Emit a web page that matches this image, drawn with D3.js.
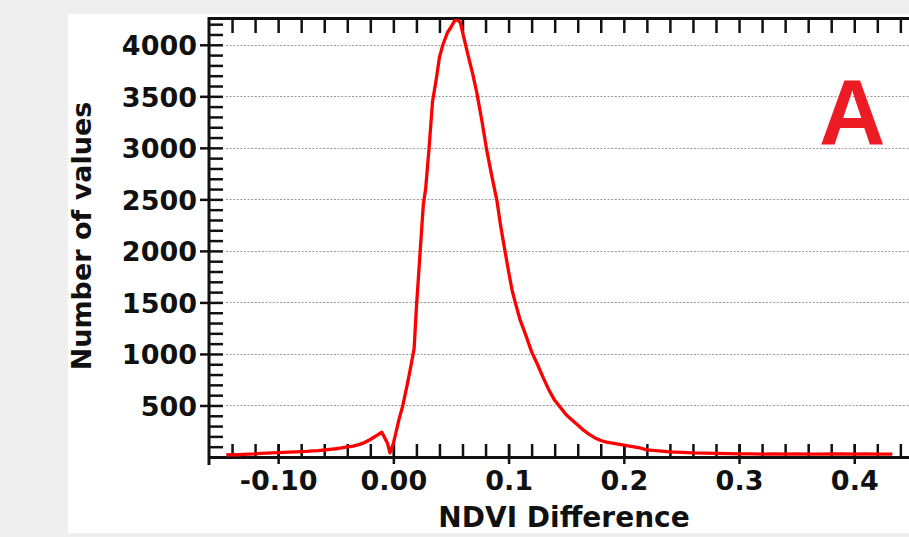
<!DOCTYPE html>
<html>
<head>
<meta charset="utf-8">
<script src="https://cdn.jsdelivr.net/npm/d3@7"></script>
<style>
  body { margin: 0; background: #efefef; }
  svg { display: block; }
</style>
</head>
<body>
<svg id="chart"></svg>
<script>
// NDVI difference histogram
const ndviDiff = [
  -0.145, -0.14, -0.135, -0.13, -0.125, -0.12, -0.115, -0.11, -0.105, -0.10,
  -0.095, -0.09, -0.085, -0.08, -0.075, -0.07, -0.065, -0.06, -0.055, -0.05,
  -0.045, -0.04, -0.035, -0.03, -0.025, -0.02, -0.015, -0.01, -0.005, -0.003,
  0.000, 0.005, 0.008, 0.012, 0.015, 0.018, 0.020, 0.023, 0.026, 0.028,
  0.031, 0.034, 0.037, 0.040, 0.043, 0.047, 0.050, 0.054, 0.058, 0.062,
  0.065, 0.069, 0.0725, 0.077, 0.081, 0.085, 0.090, 0.093, 0.097, 0.100,
  0.103, 0.106, 0.110, 0.115, 0.120, 0.125, 0.130, 0.135, 0.140, 0.145,
  0.150, 0.155, 0.160, 0.165, 0.170, 0.175, 0.180, 0.185, 0.190, 0.195,
  0.200, 0.205, 0.210, 0.215, 0.220, 0.225, 0.230, 0.235, 0.240, 0.245,
  0.250, 0.260, 0.270, 0.280, 0.290, 0.300, 0.310, 0.320, 0.330, 0.340,
  0.350, 0.360, 0.370, 0.380, 0.390, 0.400, 0.410, 0.420, 0.433
];
const counts = [
  20, 22, 22, 25, 28, 30, 35, 38, 40, 42,
  45, 47, 50, 52, 55, 60, 62, 68, 75, 80,
  88, 98, 105, 120, 140, 170, 205, 240, 130, 40,
  130, 370, 490, 700, 870, 1050, 1450, 1950, 2450, 2600,
  3000, 3450, 3650, 3880, 4000, 4120, 4170, 4250, 4220, 4030,
  3890, 3710, 3530, 3250, 2980, 2750, 2480, 2250, 1990, 1800,
  1620, 1490, 1330, 1180, 1020, 900, 770, 650, 550, 480,
  410, 360, 310, 260, 220, 185, 160, 145, 135, 125,
  115, 105, 95, 85, 70, 65, 60, 55, 50, 48,
  45, 40, 38, 35, 32, 30, 30, 28, 29, 28,
  30, 28, 27, 29, 30, 28, 30, 28, 27
];

const xTickValues = [-0.10, 0.00, 0.1, 0.2, 0.3, 0.4];
const xTickLabels = ['-0.10', '0.00', '0.1', '0.2', '0.3', '0.4'];
const yTickValues = [500, 1000, 1500, 2000, 2500, 3000, 3500, 4000];

const width = 909;
const height = 537;

const svg = d3.select('#chart')
    .attr('width', width)
    .attr('height', height);

// white page area (the scan has grey edges)
svg.append('rect')
    .attr('x', 68)
    .attr('y', 14)
    .attr('width', width - 68)
    .attr('height', 519)
    .attr('fill', '#fff');

const x = d3.scaleLinear()
    .domain([-0.16, 0.4475])
    .range([209, 909]);

const y = d3.scaleLinear()
    .domain([0, 4260])
    .range([457, 18]);

const axisColor = '#111';
const font = '"DejaVu Sans", Verdana, sans-serif';

// dotted grid lines
svg.append('g')
    .selectAll('line')
    .data(yTickValues)
    .join('line')
        .attr('x1', 226)
        .attr('x2', width)
        .attr('y1', d => Math.round(y(d)) + 0.5)
        .attr('y2', d => Math.round(y(d)) + 0.5)
        .attr('stroke', '#999')
        .attr('stroke-width', 1.2)
        .attr('stroke-dasharray', '2,1.6');

// bottom axis: minor ticks upward every 0.02
const minorX = d3.range(-7, 23).map(i => i * 0.02);
svg.append('g')
    .attr('transform', `translate(0,${y(0)})`)
    .call(d3.axisTop(x).tickValues(minorX).tickSize(13).tickFormat(''))
    .call(g => g.select('.domain').remove())
    .call(g => g.selectAll('line').attr('stroke', axisColor).attr('stroke-width', 2.5));

// bottom axis: major ticks with labels
svg.append('g')
    .attr('transform', `translate(0,${y(0)})`)
    .call(d3.axisBottom(x).tickValues(xTickValues).tickSize(7).tickSizeOuter(0)
        .tickFormat((d, i) => xTickLabels[i]))
    .call(g => g.select('.domain').attr('stroke', axisColor).attr('stroke-width', 3))
    .call(g => g.selectAll('line').attr('stroke', axisColor).attr('stroke-width', 2.5)
        .attr('y1', -13))
    .call(g => g.selectAll('text')
        .attr('y', 33)
        .attr('dy', 0)
        .attr('fill', '#111')
        .style('font-family', font)
        .style('font-weight', 'bold')
        .style('font-size', '27px'));

// top axis
svg.append('g')
    .attr('transform', `translate(0,${y.range()[1]})`)
    .call(d3.axisBottom(x).tickValues(minorX).tickSize(15).tickSizeOuter(0).tickFormat(''))
    .call(g => g.select('.domain').attr('stroke', axisColor).attr('stroke-width', 3))
    .call(g => g.selectAll('line').attr('stroke', axisColor).attr('stroke-width', 2.5));

// left axis: minor ticks inward every 100
svg.append('g')
    .attr('transform', `translate(${x.range()[0]},0)`)
    .call(d3.axisRight(y).tickValues(d3.range(100, 4300, 100)).tickSize(14).tickFormat(''))
    .call(g => g.select('.domain').remove())
    .call(g => g.selectAll('line').attr('stroke', axisColor).attr('stroke-width', 2.5));

// left axis: labelled ticks
svg.append('g')
    .attr('transform', `translate(${x.range()[0]},0)`)
    .call(d3.axisLeft(y).tickValues(yTickValues).tickSize(9).tickPadding(3)
        .tickSizeOuter(0).tickFormat(d3.format('d')))
    .call(g => g.select('.domain').remove())
    .call(g => g.selectAll('line').attr('stroke', axisColor).attr('stroke-width', 2.5))
    .call(g => g.selectAll('text')
        .attr('fill', '#111')
        .attr('dy', '0.36em')
        .style('font-family', font)
        .style('font-weight', 'bold')
        .style('font-size', '27px'));

svg.append('line')
    .attr('x1', x.range()[0])
    .attr('x2', x.range()[0])
    .attr('y1', y.range()[1] - 1)
    .attr('y2', 465)
    .attr('stroke', axisColor)
    .attr('stroke-width', 3);

// histogram line
svg.append('clipPath')
    .attr('id', 'plot-clip')
    .append('rect')
        .attr('x', 210)
        .attr('y', 19)
        .attr('width', width - 210)
        .attr('height', 440);

const line = d3.line()
    .x((d, i) => x(ndviDiff[i]))
    .y(d => y(d));

svg.append('path')
    .datum(counts)
    .attr('clip-path', 'url(#plot-clip)')
    .attr('d', line)
    .attr('fill', 'none')
    .attr('stroke', '#ff0000')
    .attr('stroke-width', 3.3)
    .attr('stroke-linejoin', 'round');

// axis titles
svg.append('text')
    .attr('x', 564)
    .attr('y', 527)
    .attr('text-anchor', 'middle')
    .style('font-family', font)
    .style('font-weight', 'bold')
    .style('font-size', '28px')
    .attr('fill', '#111')
    .text('NDVI Difference');

svg.append('text')
    .attr('transform', 'translate(91,236) rotate(-90)')
    .attr('text-anchor', 'middle')
    .style('font-family', font)
    .style('font-weight', 'bold')
    .style('font-size', '27px')
    .attr('fill', '#111')
    .text('Number of values');

// panel letter
svg.append('text')
    .attr('x', 819)
    .attr('y', 144)
    .style('font-family', '"Liberation Sans", Arial, sans-serif')
    .style('font-weight', 'bold')
    .style('font-size', '92px')
    .attr('fill', '#ed1c24')
    .text('A');
</script>
</body>
</html>
